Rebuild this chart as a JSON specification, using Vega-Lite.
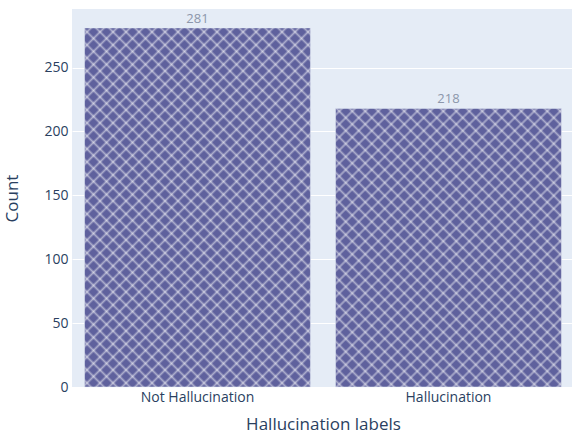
{
  "$schema": "https://vega.github.io/schema/vega-lite/v6.json",
  "width": 502,
  "height": 378,
  "autosize": {"type": "none"},
  "padding": {"left": 72, "top": 9, "right": 0, "bottom": 50},
  "background": "white",
  "config": {
    "view": {"fill": "#E5ECF6", "stroke": null},
    "font": "Open Sans"
  },
  "data": {
    "values": [
      {"label": "Not Hallucination", "count": 281},
      {"label": "Hallucination", "count": 218}
    ]
  },
  "encoding": {
    "x": {
      "field": "label",
      "type": "nominal",
      "sort": ["Not Hallucination", "Hallucination"],
      "scale": {"paddingInner": 0.1, "paddingOuter": 0.05},
      "axis": {
        "title": "Hallucination labels",
        "titleFont": "Open Sans",
        "titleFontSize": 17,
        "titleFontWeight": "normal",
        "titleColor": "#2a3f5f",
        "titleBaseline": "middle",
        "titleY": 37,
        "labelAngle": 0,
        "labelFont": "Open Sans",
        "labelFontSize": 14,
        "labelColor": "#2a3f5f",
        "labelPadding": 3,
        "ticks": false,
        "domain": false,
        "grid": false
      }
    },
    "y": {
      "field": "count",
      "type": "quantitative",
      "scale": {"domain": [0, 295.8], "nice": false, "zero": true},
      "axis": {
        "title": "Count",
        "titleFont": "Open Sans",
        "titleFontSize": 17,
        "titleFontWeight": "normal",
        "titleColor": "#2a3f5f",
        "titleAngle": -90,
        "titleAlign": "center",
        "titleBaseline": "middle",
        "titleX": -60,
        "titleY": 189,
        "values": [0, 50, 100, 150, 200, 250],
        "labelFont": "Open Sans",
        "labelFontSize": 14,
        "labelColor": "#2a3f5f",
        "labelPadding": 4,
        "ticks": false,
        "domain": false,
        "grid": true,
        "gridColor": "white",
        "gridWidth": 1
      }
    },
    "y2": {"datum": 0}
  },
  "layer": [
    {
      "mark": {"type": "bar", "fill": "#5f619d", "stroke": "#E5ECF6", "strokeWidth": 0.5}
    },
    {
      "transform": [{"filter": "datum.label === 'Not Hallucination'"}],
      "mark": {
        "type": "bar",
        "fill": {
          "gradient": "linear", "x1": 0, "y1": 0, "x2": 1.30544, "y2": 2.07506,
          "stops": [
            {"offset":0.00375,"color":"#fff0"},{"offset":0.00625,"color":"#fff7"},{"offset":0.00875,"color":"#fff0"},
            {"offset":0.01625,"color":"#fff0"},{"offset":0.01875,"color":"#fff7"},{"offset":0.02125,"color":"#fff0"},
            {"offset":0.02875,"color":"#fff0"},{"offset":0.03125,"color":"#fff7"},{"offset":0.03375,"color":"#fff0"},
            {"offset":0.04125,"color":"#fff0"},{"offset":0.04375,"color":"#fff7"},{"offset":0.04625,"color":"#fff0"},
            {"offset":0.05375,"color":"#fff0"},{"offset":0.05625,"color":"#fff7"},{"offset":0.05875,"color":"#fff0"},
            {"offset":0.06625,"color":"#fff0"},{"offset":0.06875,"color":"#fff7"},{"offset":0.07125,"color":"#fff0"},
            {"offset":0.07875,"color":"#fff0"},{"offset":0.08125,"color":"#fff7"},{"offset":0.08375,"color":"#fff0"},
            {"offset":0.09125,"color":"#fff0"},{"offset":0.09375,"color":"#fff7"},{"offset":0.09625,"color":"#fff0"},
            {"offset":0.10375,"color":"#fff0"},{"offset":0.10625,"color":"#fff7"},{"offset":0.10875,"color":"#fff0"},
            {"offset":0.11625,"color":"#fff0"},{"offset":0.11875,"color":"#fff7"},{"offset":0.12125,"color":"#fff0"},
            {"offset":0.12875,"color":"#fff0"},{"offset":0.13125,"color":"#fff7"},{"offset":0.13375,"color":"#fff0"},
            {"offset":0.14125,"color":"#fff0"},{"offset":0.14375,"color":"#fff7"},{"offset":0.14625,"color":"#fff0"},
            {"offset":0.15375,"color":"#fff0"},{"offset":0.15625,"color":"#fff7"},{"offset":0.15875,"color":"#fff0"},
            {"offset":0.16625,"color":"#fff0"},{"offset":0.16875,"color":"#fff7"},{"offset":0.17125,"color":"#fff0"},
            {"offset":0.17875,"color":"#fff0"},{"offset":0.18125,"color":"#fff7"},{"offset":0.18375,"color":"#fff0"},
            {"offset":0.19125,"color":"#fff0"},{"offset":0.19375,"color":"#fff7"},{"offset":0.19625,"color":"#fff0"},
            {"offset":0.20375,"color":"#fff0"},{"offset":0.20625,"color":"#fff7"},{"offset":0.20875,"color":"#fff0"},
            {"offset":0.21625,"color":"#fff0"},{"offset":0.21875,"color":"#fff7"},{"offset":0.22125,"color":"#fff0"},
            {"offset":0.22875,"color":"#fff0"},{"offset":0.23125,"color":"#fff7"},{"offset":0.23375,"color":"#fff0"},
            {"offset":0.24125,"color":"#fff0"},{"offset":0.24375,"color":"#fff7"},{"offset":0.24625,"color":"#fff0"},
            {"offset":0.25375,"color":"#fff0"},{"offset":0.25625,"color":"#fff7"},{"offset":0.25875,"color":"#fff0"},
            {"offset":0.26625,"color":"#fff0"},{"offset":0.26875,"color":"#fff7"},{"offset":0.27125,"color":"#fff0"},
            {"offset":0.27875,"color":"#fff0"},{"offset":0.28125,"color":"#fff7"},{"offset":0.28375,"color":"#fff0"},
            {"offset":0.29125,"color":"#fff0"},{"offset":0.29375,"color":"#fff7"},{"offset":0.29625,"color":"#fff0"},
            {"offset":0.30375,"color":"#fff0"},{"offset":0.30625,"color":"#fff7"},{"offset":0.30875,"color":"#fff0"},
            {"offset":0.31625,"color":"#fff0"},{"offset":0.31875,"color":"#fff7"},{"offset":0.32125,"color":"#fff0"},
            {"offset":0.32875,"color":"#fff0"},{"offset":0.33125,"color":"#fff7"},{"offset":0.33375,"color":"#fff0"},
            {"offset":0.34125,"color":"#fff0"},{"offset":0.34375,"color":"#fff7"},{"offset":0.34625,"color":"#fff0"},
            {"offset":0.35375,"color":"#fff0"},{"offset":0.35625,"color":"#fff7"},{"offset":0.35875,"color":"#fff0"},
            {"offset":0.36625,"color":"#fff0"},{"offset":0.36875,"color":"#fff7"},{"offset":0.37125,"color":"#fff0"},
            {"offset":0.37875,"color":"#fff0"},{"offset":0.38125,"color":"#fff7"},{"offset":0.38375,"color":"#fff0"},
            {"offset":0.39125,"color":"#fff0"},{"offset":0.39375,"color":"#fff7"},{"offset":0.39625,"color":"#fff0"},
            {"offset":0.40375,"color":"#fff0"},{"offset":0.40625,"color":"#fff7"},{"offset":0.40875,"color":"#fff0"},
            {"offset":0.41625,"color":"#fff0"},{"offset":0.41875,"color":"#fff7"},{"offset":0.42125,"color":"#fff0"},
            {"offset":0.42875,"color":"#fff0"},{"offset":0.43125,"color":"#fff7"},{"offset":0.43375,"color":"#fff0"},
            {"offset":0.44125,"color":"#fff0"},{"offset":0.44375,"color":"#fff7"},{"offset":0.44625,"color":"#fff0"},
            {"offset":0.45375,"color":"#fff0"},{"offset":0.45625,"color":"#fff7"},{"offset":0.45875,"color":"#fff0"},
            {"offset":0.46625,"color":"#fff0"},{"offset":0.46875,"color":"#fff7"},{"offset":0.47125,"color":"#fff0"},
            {"offset":0.47875,"color":"#fff0"},{"offset":0.48125,"color":"#fff7"},{"offset":0.48375,"color":"#fff0"},
            {"offset":0.49125,"color":"#fff0"},{"offset":0.49375,"color":"#fff7"},{"offset":0.49625,"color":"#fff0"},
            {"offset":0.50375,"color":"#fff0"},{"offset":0.50625,"color":"#fff7"},{"offset":0.50875,"color":"#fff0"},
            {"offset":0.51625,"color":"#fff0"},{"offset":0.51875,"color":"#fff7"},{"offset":0.52125,"color":"#fff0"},
            {"offset":0.52875,"color":"#fff0"},{"offset":0.53125,"color":"#fff7"},{"offset":0.53375,"color":"#fff0"},
            {"offset":0.54125,"color":"#fff0"},{"offset":0.54375,"color":"#fff7"},{"offset":0.54625,"color":"#fff0"},
            {"offset":0.55375,"color":"#fff0"},{"offset":0.55625,"color":"#fff7"},{"offset":0.55875,"color":"#fff0"},
            {"offset":0.56625,"color":"#fff0"},{"offset":0.56875,"color":"#fff7"},{"offset":0.57125,"color":"#fff0"}
          ]
        }
      }
    },
    {
      "transform": [{"filter": "datum.label === 'Not Hallucination'"}],
      "mark": {
        "type": "bar",
        "fill": {
          "gradient": "linear", "x1": 0, "y1": 1, "x2": 1.30544, "y2": -1.07506,
          "stops": [
            {"offset":0.00375,"color":"#fff0"},{"offset":0.00625,"color":"#fff7"},{"offset":0.00875,"color":"#fff0"},
            {"offset":0.01625,"color":"#fff0"},{"offset":0.01875,"color":"#fff7"},{"offset":0.02125,"color":"#fff0"},
            {"offset":0.02875,"color":"#fff0"},{"offset":0.03125,"color":"#fff7"},{"offset":0.03375,"color":"#fff0"},
            {"offset":0.04125,"color":"#fff0"},{"offset":0.04375,"color":"#fff7"},{"offset":0.04625,"color":"#fff0"},
            {"offset":0.05375,"color":"#fff0"},{"offset":0.05625,"color":"#fff7"},{"offset":0.05875,"color":"#fff0"},
            {"offset":0.06625,"color":"#fff0"},{"offset":0.06875,"color":"#fff7"},{"offset":0.07125,"color":"#fff0"},
            {"offset":0.07875,"color":"#fff0"},{"offset":0.08125,"color":"#fff7"},{"offset":0.08375,"color":"#fff0"},
            {"offset":0.09125,"color":"#fff0"},{"offset":0.09375,"color":"#fff7"},{"offset":0.09625,"color":"#fff0"},
            {"offset":0.10375,"color":"#fff0"},{"offset":0.10625,"color":"#fff7"},{"offset":0.10875,"color":"#fff0"},
            {"offset":0.11625,"color":"#fff0"},{"offset":0.11875,"color":"#fff7"},{"offset":0.12125,"color":"#fff0"},
            {"offset":0.12875,"color":"#fff0"},{"offset":0.13125,"color":"#fff7"},{"offset":0.13375,"color":"#fff0"},
            {"offset":0.14125,"color":"#fff0"},{"offset":0.14375,"color":"#fff7"},{"offset":0.14625,"color":"#fff0"},
            {"offset":0.15375,"color":"#fff0"},{"offset":0.15625,"color":"#fff7"},{"offset":0.15875,"color":"#fff0"},
            {"offset":0.16625,"color":"#fff0"},{"offset":0.16875,"color":"#fff7"},{"offset":0.17125,"color":"#fff0"},
            {"offset":0.17875,"color":"#fff0"},{"offset":0.18125,"color":"#fff7"},{"offset":0.18375,"color":"#fff0"},
            {"offset":0.19125,"color":"#fff0"},{"offset":0.19375,"color":"#fff7"},{"offset":0.19625,"color":"#fff0"},
            {"offset":0.20375,"color":"#fff0"},{"offset":0.20625,"color":"#fff7"},{"offset":0.20875,"color":"#fff0"},
            {"offset":0.21625,"color":"#fff0"},{"offset":0.21875,"color":"#fff7"},{"offset":0.22125,"color":"#fff0"},
            {"offset":0.22875,"color":"#fff0"},{"offset":0.23125,"color":"#fff7"},{"offset":0.23375,"color":"#fff0"},
            {"offset":0.24125,"color":"#fff0"},{"offset":0.24375,"color":"#fff7"},{"offset":0.24625,"color":"#fff0"},
            {"offset":0.25375,"color":"#fff0"},{"offset":0.25625,"color":"#fff7"},{"offset":0.25875,"color":"#fff0"},
            {"offset":0.26625,"color":"#fff0"},{"offset":0.26875,"color":"#fff7"},{"offset":0.27125,"color":"#fff0"},
            {"offset":0.27875,"color":"#fff0"},{"offset":0.28125,"color":"#fff7"},{"offset":0.28375,"color":"#fff0"},
            {"offset":0.29125,"color":"#fff0"},{"offset":0.29375,"color":"#fff7"},{"offset":0.29625,"color":"#fff0"},
            {"offset":0.30375,"color":"#fff0"},{"offset":0.30625,"color":"#fff7"},{"offset":0.30875,"color":"#fff0"},
            {"offset":0.31625,"color":"#fff0"},{"offset":0.31875,"color":"#fff7"},{"offset":0.32125,"color":"#fff0"},
            {"offset":0.32875,"color":"#fff0"},{"offset":0.33125,"color":"#fff7"},{"offset":0.33375,"color":"#fff0"},
            {"offset":0.34125,"color":"#fff0"},{"offset":0.34375,"color":"#fff7"},{"offset":0.34625,"color":"#fff0"},
            {"offset":0.35375,"color":"#fff0"},{"offset":0.35625,"color":"#fff7"},{"offset":0.35875,"color":"#fff0"},
            {"offset":0.36625,"color":"#fff0"},{"offset":0.36875,"color":"#fff7"},{"offset":0.37125,"color":"#fff0"},
            {"offset":0.37875,"color":"#fff0"},{"offset":0.38125,"color":"#fff7"},{"offset":0.38375,"color":"#fff0"},
            {"offset":0.39125,"color":"#fff0"},{"offset":0.39375,"color":"#fff7"},{"offset":0.39625,"color":"#fff0"},
            {"offset":0.40375,"color":"#fff0"},{"offset":0.40625,"color":"#fff7"},{"offset":0.40875,"color":"#fff0"},
            {"offset":0.41625,"color":"#fff0"},{"offset":0.41875,"color":"#fff7"},{"offset":0.42125,"color":"#fff0"},
            {"offset":0.42875,"color":"#fff0"},{"offset":0.43125,"color":"#fff7"},{"offset":0.43375,"color":"#fff0"},
            {"offset":0.44125,"color":"#fff0"},{"offset":0.44375,"color":"#fff7"},{"offset":0.44625,"color":"#fff0"},
            {"offset":0.45375,"color":"#fff0"},{"offset":0.45625,"color":"#fff7"},{"offset":0.45875,"color":"#fff0"},
            {"offset":0.46625,"color":"#fff0"},{"offset":0.46875,"color":"#fff7"},{"offset":0.47125,"color":"#fff0"},
            {"offset":0.47875,"color":"#fff0"},{"offset":0.48125,"color":"#fff7"},{"offset":0.48375,"color":"#fff0"},
            {"offset":0.49125,"color":"#fff0"},{"offset":0.49375,"color":"#fff7"},{"offset":0.49625,"color":"#fff0"},
            {"offset":0.50375,"color":"#fff0"},{"offset":0.50625,"color":"#fff7"},{"offset":0.50875,"color":"#fff0"},
            {"offset":0.51625,"color":"#fff0"},{"offset":0.51875,"color":"#fff7"},{"offset":0.52125,"color":"#fff0"},
            {"offset":0.52875,"color":"#fff0"},{"offset":0.53125,"color":"#fff7"},{"offset":0.53375,"color":"#fff0"},
            {"offset":0.54125,"color":"#fff0"},{"offset":0.54375,"color":"#fff7"},{"offset":0.54625,"color":"#fff0"},
            {"offset":0.55375,"color":"#fff0"},{"offset":0.55625,"color":"#fff7"},{"offset":0.55875,"color":"#fff0"},
            {"offset":0.56625,"color":"#fff0"},{"offset":0.56875,"color":"#fff7"},{"offset":0.57125,"color":"#fff0"}
          ]
        }
      }
    },
    {
      "transform": [{"filter": "datum.label === 'Hallucination'"}],
      "mark": {
        "type": "bar",
        "fill": {
          "gradient": "linear", "x1": 0, "y1": 0, "x2": 1.82632, "y2": 2.25222,
          "stops": [
            {"offset":0.00375,"color":"#fff0"},{"offset":0.00625,"color":"#fff7"},{"offset":0.00875,"color":"#fff0"},
            {"offset":0.01625,"color":"#fff0"},{"offset":0.01875,"color":"#fff7"},{"offset":0.02125,"color":"#fff0"},
            {"offset":0.02875,"color":"#fff0"},{"offset":0.03125,"color":"#fff7"},{"offset":0.03375,"color":"#fff0"},
            {"offset":0.04125,"color":"#fff0"},{"offset":0.04375,"color":"#fff7"},{"offset":0.04625,"color":"#fff0"},
            {"offset":0.05375,"color":"#fff0"},{"offset":0.05625,"color":"#fff7"},{"offset":0.05875,"color":"#fff0"},
            {"offset":0.06625,"color":"#fff0"},{"offset":0.06875,"color":"#fff7"},{"offset":0.07125,"color":"#fff0"},
            {"offset":0.07875,"color":"#fff0"},{"offset":0.08125,"color":"#fff7"},{"offset":0.08375,"color":"#fff0"},
            {"offset":0.09125,"color":"#fff0"},{"offset":0.09375,"color":"#fff7"},{"offset":0.09625,"color":"#fff0"},
            {"offset":0.10375,"color":"#fff0"},{"offset":0.10625,"color":"#fff7"},{"offset":0.10875,"color":"#fff0"},
            {"offset":0.11625,"color":"#fff0"},{"offset":0.11875,"color":"#fff7"},{"offset":0.12125,"color":"#fff0"},
            {"offset":0.12875,"color":"#fff0"},{"offset":0.13125,"color":"#fff7"},{"offset":0.13375,"color":"#fff0"},
            {"offset":0.14125,"color":"#fff0"},{"offset":0.14375,"color":"#fff7"},{"offset":0.14625,"color":"#fff0"},
            {"offset":0.15375,"color":"#fff0"},{"offset":0.15625,"color":"#fff7"},{"offset":0.15875,"color":"#fff0"},
            {"offset":0.16625,"color":"#fff0"},{"offset":0.16875,"color":"#fff7"},{"offset":0.17125,"color":"#fff0"},
            {"offset":0.17875,"color":"#fff0"},{"offset":0.18125,"color":"#fff7"},{"offset":0.18375,"color":"#fff0"},
            {"offset":0.19125,"color":"#fff0"},{"offset":0.19375,"color":"#fff7"},{"offset":0.19625,"color":"#fff0"},
            {"offset":0.20375,"color":"#fff0"},{"offset":0.20625,"color":"#fff7"},{"offset":0.20875,"color":"#fff0"},
            {"offset":0.21625,"color":"#fff0"},{"offset":0.21875,"color":"#fff7"},{"offset":0.22125,"color":"#fff0"},
            {"offset":0.22875,"color":"#fff0"},{"offset":0.23125,"color":"#fff7"},{"offset":0.23375,"color":"#fff0"},
            {"offset":0.24125,"color":"#fff0"},{"offset":0.24375,"color":"#fff7"},{"offset":0.24625,"color":"#fff0"},
            {"offset":0.25375,"color":"#fff0"},{"offset":0.25625,"color":"#fff7"},{"offset":0.25875,"color":"#fff0"},
            {"offset":0.26625,"color":"#fff0"},{"offset":0.26875,"color":"#fff7"},{"offset":0.27125,"color":"#fff0"},
            {"offset":0.27875,"color":"#fff0"},{"offset":0.28125,"color":"#fff7"},{"offset":0.28375,"color":"#fff0"},
            {"offset":0.29125,"color":"#fff0"},{"offset":0.29375,"color":"#fff7"},{"offset":0.29625,"color":"#fff0"},
            {"offset":0.30375,"color":"#fff0"},{"offset":0.30625,"color":"#fff7"},{"offset":0.30875,"color":"#fff0"},
            {"offset":0.31625,"color":"#fff0"},{"offset":0.31875,"color":"#fff7"},{"offset":0.32125,"color":"#fff0"},
            {"offset":0.32875,"color":"#fff0"},{"offset":0.33125,"color":"#fff7"},{"offset":0.33375,"color":"#fff0"},
            {"offset":0.34125,"color":"#fff0"},{"offset":0.34375,"color":"#fff7"},{"offset":0.34625,"color":"#fff0"},
            {"offset":0.35375,"color":"#fff0"},{"offset":0.35625,"color":"#fff7"},{"offset":0.35875,"color":"#fff0"},
            {"offset":0.36625,"color":"#fff0"},{"offset":0.36875,"color":"#fff7"},{"offset":0.37125,"color":"#fff0"},
            {"offset":0.37875,"color":"#fff0"},{"offset":0.38125,"color":"#fff7"},{"offset":0.38375,"color":"#fff0"},
            {"offset":0.39125,"color":"#fff0"},{"offset":0.39375,"color":"#fff7"},{"offset":0.39625,"color":"#fff0"},
            {"offset":0.40375,"color":"#fff0"},{"offset":0.40625,"color":"#fff7"},{"offset":0.40875,"color":"#fff0"},
            {"offset":0.41625,"color":"#fff0"},{"offset":0.41875,"color":"#fff7"},{"offset":0.42125,"color":"#fff0"},
            {"offset":0.42875,"color":"#fff0"},{"offset":0.43125,"color":"#fff7"},{"offset":0.43375,"color":"#fff0"},
            {"offset":0.44125,"color":"#fff0"},{"offset":0.44375,"color":"#fff7"},{"offset":0.44625,"color":"#fff0"},
            {"offset":0.45375,"color":"#fff0"},{"offset":0.45625,"color":"#fff7"},{"offset":0.45875,"color":"#fff0"},
            {"offset":0.46625,"color":"#fff0"},{"offset":0.46875,"color":"#fff7"},{"offset":0.47125,"color":"#fff0"},
            {"offset":0.47875,"color":"#fff0"},{"offset":0.48125,"color":"#fff7"},{"offset":0.48375,"color":"#fff0"},
            {"offset":0.49125,"color":"#fff0"},{"offset":0.49375,"color":"#fff7"},{"offset":0.49625,"color":"#fff0"}
          ]
        }
      }
    },
    {
      "transform": [{"filter": "datum.label === 'Hallucination'"}],
      "mark": {
        "type": "bar",
        "fill": {
          "gradient": "linear", "x1": 0, "y1": 1, "x2": 1.82632, "y2": -1.25222,
          "stops": [
            {"offset":0.00375,"color":"#fff0"},{"offset":0.00625,"color":"#fff7"},{"offset":0.00875,"color":"#fff0"},
            {"offset":0.01625,"color":"#fff0"},{"offset":0.01875,"color":"#fff7"},{"offset":0.02125,"color":"#fff0"},
            {"offset":0.02875,"color":"#fff0"},{"offset":0.03125,"color":"#fff7"},{"offset":0.03375,"color":"#fff0"},
            {"offset":0.04125,"color":"#fff0"},{"offset":0.04375,"color":"#fff7"},{"offset":0.04625,"color":"#fff0"},
            {"offset":0.05375,"color":"#fff0"},{"offset":0.05625,"color":"#fff7"},{"offset":0.05875,"color":"#fff0"},
            {"offset":0.06625,"color":"#fff0"},{"offset":0.06875,"color":"#fff7"},{"offset":0.07125,"color":"#fff0"},
            {"offset":0.07875,"color":"#fff0"},{"offset":0.08125,"color":"#fff7"},{"offset":0.08375,"color":"#fff0"},
            {"offset":0.09125,"color":"#fff0"},{"offset":0.09375,"color":"#fff7"},{"offset":0.09625,"color":"#fff0"},
            {"offset":0.10375,"color":"#fff0"},{"offset":0.10625,"color":"#fff7"},{"offset":0.10875,"color":"#fff0"},
            {"offset":0.11625,"color":"#fff0"},{"offset":0.11875,"color":"#fff7"},{"offset":0.12125,"color":"#fff0"},
            {"offset":0.12875,"color":"#fff0"},{"offset":0.13125,"color":"#fff7"},{"offset":0.13375,"color":"#fff0"},
            {"offset":0.14125,"color":"#fff0"},{"offset":0.14375,"color":"#fff7"},{"offset":0.14625,"color":"#fff0"},
            {"offset":0.15375,"color":"#fff0"},{"offset":0.15625,"color":"#fff7"},{"offset":0.15875,"color":"#fff0"},
            {"offset":0.16625,"color":"#fff0"},{"offset":0.16875,"color":"#fff7"},{"offset":0.17125,"color":"#fff0"},
            {"offset":0.17875,"color":"#fff0"},{"offset":0.18125,"color":"#fff7"},{"offset":0.18375,"color":"#fff0"},
            {"offset":0.19125,"color":"#fff0"},{"offset":0.19375,"color":"#fff7"},{"offset":0.19625,"color":"#fff0"},
            {"offset":0.20375,"color":"#fff0"},{"offset":0.20625,"color":"#fff7"},{"offset":0.20875,"color":"#fff0"},
            {"offset":0.21625,"color":"#fff0"},{"offset":0.21875,"color":"#fff7"},{"offset":0.22125,"color":"#fff0"},
            {"offset":0.22875,"color":"#fff0"},{"offset":0.23125,"color":"#fff7"},{"offset":0.23375,"color":"#fff0"},
            {"offset":0.24125,"color":"#fff0"},{"offset":0.24375,"color":"#fff7"},{"offset":0.24625,"color":"#fff0"},
            {"offset":0.25375,"color":"#fff0"},{"offset":0.25625,"color":"#fff7"},{"offset":0.25875,"color":"#fff0"},
            {"offset":0.26625,"color":"#fff0"},{"offset":0.26875,"color":"#fff7"},{"offset":0.27125,"color":"#fff0"},
            {"offset":0.27875,"color":"#fff0"},{"offset":0.28125,"color":"#fff7"},{"offset":0.28375,"color":"#fff0"},
            {"offset":0.29125,"color":"#fff0"},{"offset":0.29375,"color":"#fff7"},{"offset":0.29625,"color":"#fff0"},
            {"offset":0.30375,"color":"#fff0"},{"offset":0.30625,"color":"#fff7"},{"offset":0.30875,"color":"#fff0"},
            {"offset":0.31625,"color":"#fff0"},{"offset":0.31875,"color":"#fff7"},{"offset":0.32125,"color":"#fff0"},
            {"offset":0.32875,"color":"#fff0"},{"offset":0.33125,"color":"#fff7"},{"offset":0.33375,"color":"#fff0"},
            {"offset":0.34125,"color":"#fff0"},{"offset":0.34375,"color":"#fff7"},{"offset":0.34625,"color":"#fff0"},
            {"offset":0.35375,"color":"#fff0"},{"offset":0.35625,"color":"#fff7"},{"offset":0.35875,"color":"#fff0"},
            {"offset":0.36625,"color":"#fff0"},{"offset":0.36875,"color":"#fff7"},{"offset":0.37125,"color":"#fff0"},
            {"offset":0.37875,"color":"#fff0"},{"offset":0.38125,"color":"#fff7"},{"offset":0.38375,"color":"#fff0"},
            {"offset":0.39125,"color":"#fff0"},{"offset":0.39375,"color":"#fff7"},{"offset":0.39625,"color":"#fff0"},
            {"offset":0.40375,"color":"#fff0"},{"offset":0.40625,"color":"#fff7"},{"offset":0.40875,"color":"#fff0"},
            {"offset":0.41625,"color":"#fff0"},{"offset":0.41875,"color":"#fff7"},{"offset":0.42125,"color":"#fff0"},
            {"offset":0.42875,"color":"#fff0"},{"offset":0.43125,"color":"#fff7"},{"offset":0.43375,"color":"#fff0"},
            {"offset":0.44125,"color":"#fff0"},{"offset":0.44375,"color":"#fff7"},{"offset":0.44625,"color":"#fff0"},
            {"offset":0.45375,"color":"#fff0"},{"offset":0.45625,"color":"#fff7"},{"offset":0.45875,"color":"#fff0"},
            {"offset":0.46625,"color":"#fff0"},{"offset":0.46875,"color":"#fff7"},{"offset":0.47125,"color":"#fff0"},
            {"offset":0.47875,"color":"#fff0"},{"offset":0.48125,"color":"#fff7"},{"offset":0.48375,"color":"#fff0"},
            {"offset":0.49125,"color":"#fff0"},{"offset":0.49375,"color":"#fff7"},{"offset":0.49625,"color":"#fff0"}
          ]
        }
      }
    },
    {
      "mark": {"type": "text", "baseline": "alphabetic", "dy": -5, "font": "Open Sans", "fontSize": 13, "color": "#8c97ab"},
      "encoding": {"text": {"field": "count", "type": "quantitative"}, "y2": null}
    }
  ]
}
